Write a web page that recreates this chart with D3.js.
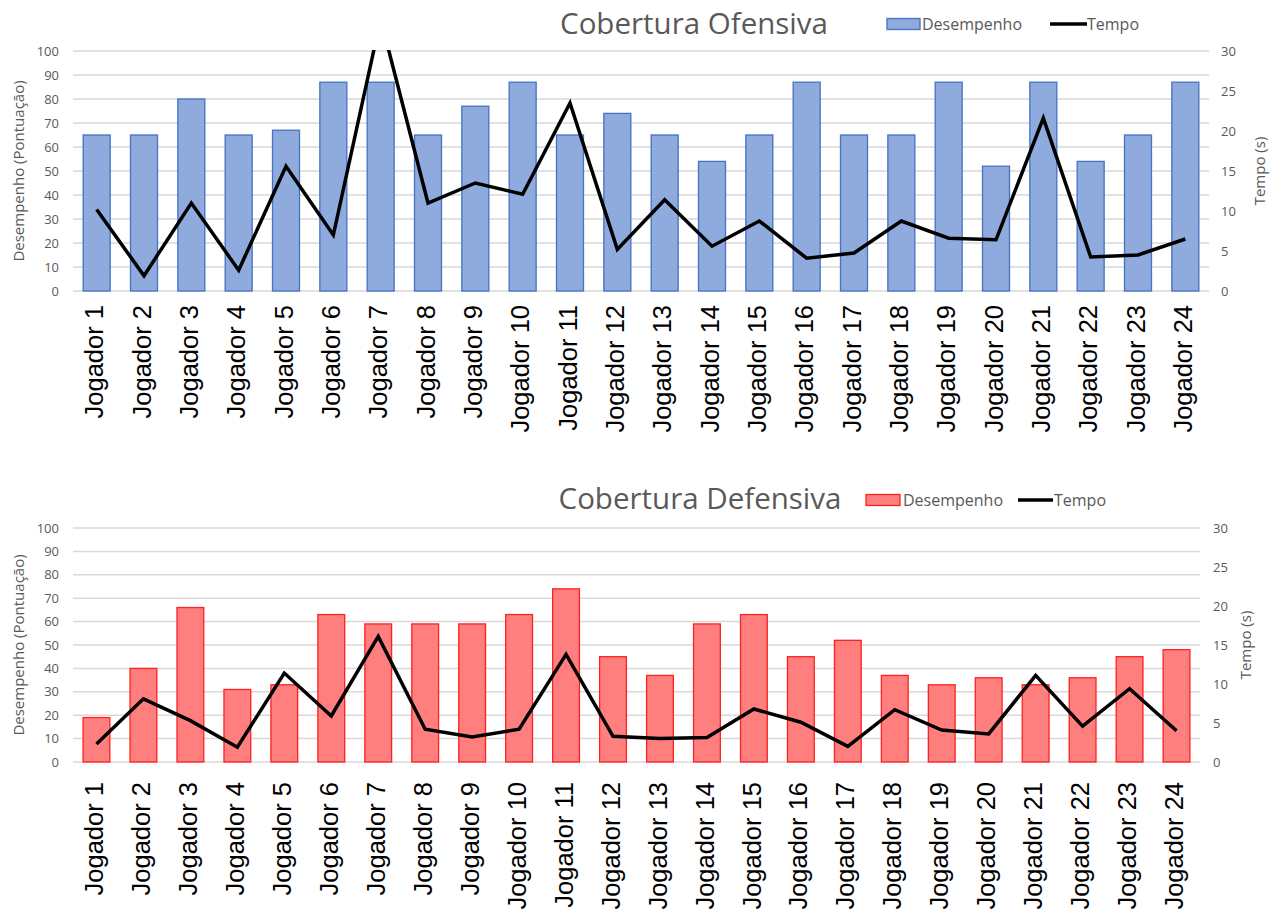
<!DOCTYPE html>
<html><head><meta charset="utf-8">
<script src="https://cdn.jsdelivr.net/npm/d3@7"></script>
<style>body{margin:0;background:#fff}svg{display:block}</style>
</head><body>
<svg id="c" width="1277" height="912"></svg>
<script>
const categories = ["Jogador 1","Jogador 2","Jogador 3","Jogador 4","Jogador 5","Jogador 6","Jogador 7","Jogador 8","Jogador 9","Jogador 10","Jogador 11","Jogador 12","Jogador 13","Jogador 14","Jogador 15","Jogador 16","Jogador 17","Jogador 18","Jogador 19","Jogador 20","Jogador 21","Jogador 22","Jogador 23","Jogador 24"];
const ofensivaDesempenho = [65,65,80,65,67,87,87,65,77,87,65,74,65,54,65,87,65,65,87,52,87,54,65,87];
const ofensivaTempo = [10.2,1.9,11,2.6,15.6,7,34,11,13.5,12.1,23.5,5.2,11.4,5.6,8.75,4.1,4.75,8.75,6.6,6.4,21.6,4.25,4.5,6.5];
const defensivaDesempenho = [19,40,66,31,33,63,59,59,59,63,74,45,37,59,63,45,52,37,33,36,33,36,45,48];
const defensivaTempo = [2.3,8.1,5.3,1.9,11.4,5.9,16.1,4.2,3.2,4.2,13.8,3.3,3.0,3.15,6.8,5.1,2.0,6.7,4.1,3.6,11.1,4.6,9.4,4.0];
const leftTicks = [0,10,20,30,40,50,60,70,80,90,100];
const rightTicks = [0,5,10,15,20,25,30];

const svg = d3.select("#c");
const gray = "#595959";
const tickFont = "'Open Sans', sans-serif";

function drawChart(o) {
  const g = svg.append("g");
  const x = d3.scaleBand().domain(categories).range([o.x0, o.x1]).paddingInner(0.43).paddingOuter(0.215);
  const yL = d3.scaleLinear().domain([0,100]).range([o.yb, o.yt]);
  const yR = d3.scaleLinear().domain([0,30]).range([o.yb, o.yt]);
  const clipId = "clip" + o.id;
  svg.append("clipPath").attr("id", clipId).append("rect")
    .attr("x", o.x0).attr("y", o.yt - 1).attr("width", o.x1 - o.x0).attr("height", o.yb - o.yt + 2);

  g.selectAll(".grid").data(leftTicks).join("line")
    .attr("x1", o.x0).attr("x2", o.x1).attr("y1", d => yL(d)).attr("y2", d => yL(d))
    .attr("stroke", "#d9d9d9").attr("stroke-width", 1.5);

  const la = g.append("g").attr("transform", `translate(${o.x0 - 4},0)`)
    .call(d3.axisLeft(yL).tickValues(leftTicks).tickSize(0).tickPadding(10));
  la.select(".domain").remove();
  la.selectAll("text").attr("fill", gray).style("font-family", tickFont).style("font-size", "13px");

  const ra = g.append("g").attr("transform", `translate(${o.rx},0)`)
    .call(d3.axisRight(yR).tickValues(rightTicks).tickSize(0).tickPadding(0));
  ra.select(".domain").remove();
  ra.selectAll("text").attr("fill", gray).style("font-family", tickFont).style("font-size", "13px");

  g.selectAll(".bar").data(o.bars).join("rect")
    .attr("x", (d,i) => x(categories[i])).attr("width", x.bandwidth())
    .attr("y", d => yL(d)).attr("height", d => yL(0) - yL(d))
    .attr("fill", o.fill).attr("stroke", o.stroke).attr("stroke-width", 1.3);

  const line = d3.line().x((d,i) => x(categories[i]) + x.bandwidth()/2).y(d => yR(d));
  g.append("path").datum(o.line).attr("d", line).attr("fill", "none")
    .attr("stroke", "#000").attr("stroke-width", 3.5).attr("stroke-linejoin", "miter")
    .attr("clip-path", `url(#${clipId})`);

  const xa = g.append("g").attr("transform", `translate(0,${o.yb})`)
    .call(d3.axisBottom(x).tickSize(0).tickPadding(0));
  xa.select(".domain").remove();
  xa.selectAll("text")
    .attr("transform", "rotate(-90)")
    .attr("x", -o.labelGap).attr("y", 0).attr("dy", "0.26em")
    .attr("text-anchor", "end")
    .attr("fill", "#000")
    .style("font-family", "'Liberation Sans', Arial, sans-serif")
    .style("font-size", o.labelSize + "px");

  g.append("text").attr("x", o.titleX).attr("y", o.titleY).attr("text-anchor", "middle")
    .attr("fill", gray).style("font-family", tickFont).style("font-size", "29.5px").text(o.title);

  const L = o.leg;
  const lg = g.append("g");
  lg.append("rect").attr("x", L[0]).attr("y", o.legY - 5.5).attr("width", L[1] - L[0]).attr("height", 11)
    .attr("fill", o.fill).attr("stroke", o.stroke).attr("stroke-width", 1.3);
  lg.append("text").attr("x", L[2]).attr("y", o.legY).attr("dy", "0.35em")
    .attr("fill", gray).style("font-family", tickFont).style("font-size", "16px").text("Desempenho");
  lg.append("line").attr("x1", L[3]).attr("x2", L[4])
    .attr("y1", o.legY).attr("y2", o.legY).attr("stroke", "#000").attr("stroke-width", 3.5);
  lg.append("text").attr("x", L[5]).attr("y", o.legY).attr("dy", "0.35em")
    .attr("fill", gray).style("font-family", tickFont).style("font-size", "16px").text("Tempo");

  const cy = (o.yt + o.yb) / 2;
  g.append("text").attr("transform", `translate(${o.ltx},${cy}) rotate(-90)`).attr("text-anchor", "middle")
    .attr("fill", gray).style("font-family", tickFont).style("font-size", "15px").text("Desempenho (Pontuação)");
  g.append("text").attr("transform", `translate(${o.rtx},${cy}) rotate(-90)`).attr("text-anchor", "middle")
    .attr("fill", gray).style("font-family", tickFont).style("font-size", "15px").text("Tempo (s)");
}

drawChart({id: "top", x0: 73, x1: 1209, yt: 51, yb: 291, rx: 1221,
  bars: ofensivaDesempenho, line: ofensivaTempo, fill: "#8faadc", stroke: "#4472c4",
  labelGap: 14, labelSize: 25.5, title: "Cobertura Ofensiva", titleX: 694, titleY: 34,
  legY: 24, leg: [887, 920, 922, 1050, 1087, 1087], ltx: 24, rtx: 1265});

drawChart({id: "bot", x0: 73, x1: 1200, yt: 528, yb: 762, rx: 1213,
  bars: defensivaDesempenho, line: defensivaTempo, fill: "#ff7f7f", stroke: "#ff2020",
  labelGap: 20, labelSize: 25.5, title: "Cobertura Defensiva", titleX: 700, titleY: 509,
  legY: 500, leg: [866, 900, 903, 1018, 1053, 1054], ltx: 24, rtx: 1251});
</script>
</body></html>
